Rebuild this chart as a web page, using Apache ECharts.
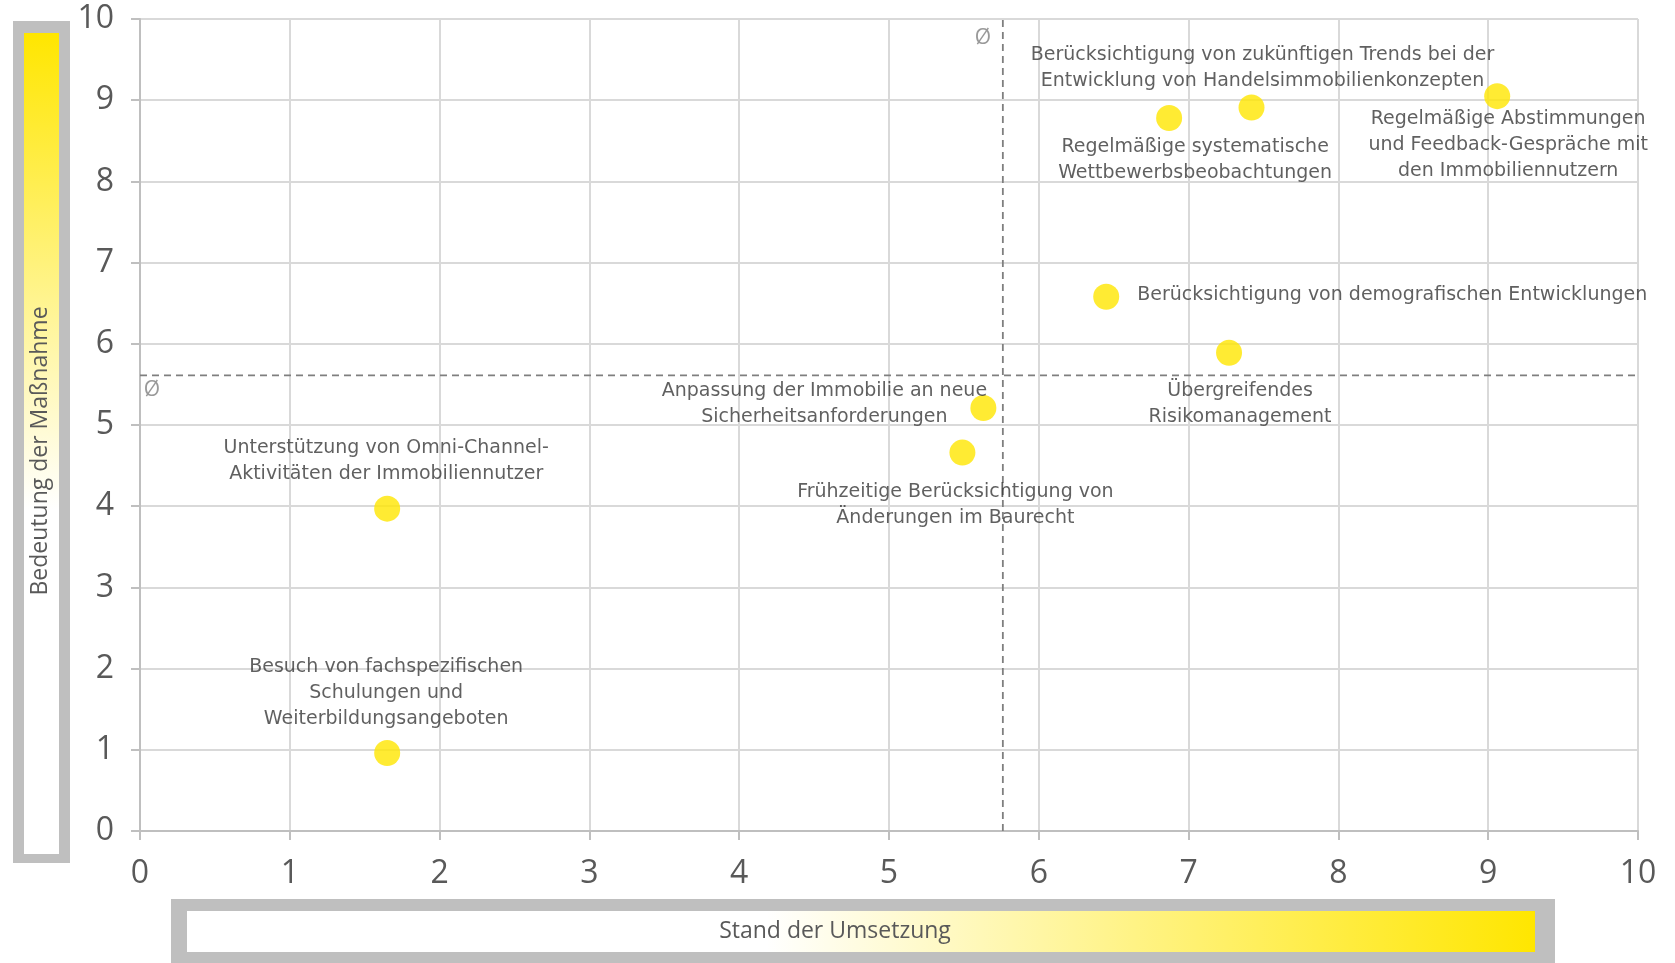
<!DOCTYPE html>
<html>
<head>
<meta charset="utf-8">
<title>Maßnahmen – Bedeutung und Stand der Umsetzung</title>
<script src="https://cdn.jsdelivr.net/npm/echarts@6/dist/echarts.min.js"></script>
<style>
  html, body { margin: 0; padding: 0; background: #ffffff; }
  #chart { width: 1675px; height: 963px; }
</style>
</head>
<body>
<div id="chart"></div>
<script>
// Measures (multi-line labels)
const measures = [
  'Besuch von fachspezifischen\nSchulungen und\nWeiterbildungsangeboten',
  'Unterstützung von Omni-Channel-\nAktivitäten der Immobiliennutzer',
  'Frühzeitige Berücksichtigung von\nÄnderungen im Baurecht',
  'Anpassung der Immobilie an neue\nSicherheitsanforderungen',
  'Berücksichtigung von demografischen Entwicklungen',
  'Übergreifendes\nRisikomanagement',
  'Regelmäßige systematische\nWettbewerbsbeobachtungen',
  'Berücksichtigung von zukünftigen Trends bei der\nEntwicklung von Handelsimmobilienkonzepten',
  'Regelmäßige Abstimmungen\nund Feedback-Gespräche mit\nden Immobiliennutzern'
];
// Stand der Umsetzung (x)
const implementation = [1.65, 1.65, 5.49, 5.63, 6.45, 7.27, 6.87, 7.42, 9.06];
// Bedeutung der Maßnahme (y)
const importance = [0.96, 3.97, 4.66, 5.21, 6.58, 5.89, 8.78, 8.91, 9.05];
// Average lines
const avgImplementation = 5.76;
const avgImportance = 5.61;
// Axis ticks
const axisMin = 0;
const axisMax = 10;
const axisStep = 1;
const avgSymbol = 'Ø';
const xTitle = 'Stand der Umsetzung';
const yTitle = 'Bedeutung der Maßnahme';

// Label placement around each dot (pixel offsets from dot centre)
const labelPlacement = [
  { offset: [-1, -60], align: 'center' },
  { offset: [-1, -48], align: 'center' },
  { offset: [-7, 52], align: 'center' },
  { offset: [-159, -4], align: 'center' },
  { offset: [31, -2], align: 'left' },
  { offset: [11, 51], align: 'center' },
  { offset: [26, 42], align: 'center' },
  { offset: [11, -39], align: 'center' },
  { offset: [11, 49], align: 'center' }
];

const FONT = '"Open Sans", "Noto Sans", sans-serif';
const LABEL_FONT = '"DejaVu Sans", "Open Sans", sans-serif';
const YELLOW = '#FFE600';

const chart = echarts.init(document.getElementById('chart'), null, { renderer: 'canvas' });

const points = measures.map((name, i) => ({
  name: name,
  value: [implementation[i], importance[i]],
  label: {
    show: true,
    formatter: name,
    position: 'inside',
    align: labelPlacement[i].align,
    verticalAlign: 'middle',
    offset: labelPlacement[i].offset
  }
}));

const axisCommon = {
  type: 'value',
  min: axisMin,
  max: axisMax,
  interval: axisStep,
  axisLine: { show: true, lineStyle: { color: '#BFBFBF', width: 2 } },
  axisTick: { show: true, length: 9, lineStyle: { color: '#BFBFBF', width: 2 } },
  splitLine: { show: true, lineStyle: { color: '#D9D9D9', width: 2 } },
  axisLabel: { color: '#595959', fontSize: 32, fontFamily: FONT }
};

chart.setOption({
  animation: false,
  backgroundColor: '#ffffff',
  grid: { left: 140, right: 37, top: 19, bottom: 132, containLabel: false },
  xAxis: Object.assign({}, axisCommon, {
    axisLabel: Object.assign({}, axisCommon.axisLabel, { margin: 27 })
  }),
  yAxis: Object.assign({}, axisCommon, {
    axisLabel: Object.assign({}, axisCommon.axisLabel, { margin: 26 })
  }),
  graphic: [
    // vertical colour scale (importance)
    { type: 'rect', left: 13, top: 21, shape: { width: 57, height: 842 }, style: { fill: '#BFBFBF' }, silent: true },
    {
      type: 'rect', left: 24, top: 33, shape: { width: 35, height: 821 }, silent: true,
      style: {
        fill: new echarts.graphic.LinearGradient(0, 0, 0, 1, [
          { offset: 0, color: YELLOW },
          { offset: 0.58, color: '#FFFFFF' },
          { offset: 1, color: '#FFFFFF' }
        ])
      }
    },
    {
      type: 'text', x: 40, y: 451, rotation: Math.PI / 2, silent: true,
      style: { text: yTitle, fill: '#595959', font: '23px ' + FONT, textAlign: 'center', textVerticalAlign: 'middle' }
    },
    // horizontal colour scale (implementation)
    { type: 'rect', left: 171, top: 899, shape: { width: 1384, height: 64 }, style: { fill: '#BFBFBF' }, silent: true },
    {
      type: 'rect', left: 187, top: 911, shape: { width: 1348, height: 41 }, silent: true,
      style: {
        fill: new echarts.graphic.LinearGradient(0, 0, 1, 0, [
          { offset: 0, color: '#FFFFFF' },
          { offset: 0.43, color: '#FFFFFF' },
          { offset: 1, color: YELLOW }
        ])
      }
    },
    {
      type: 'text', x: 835, y: 931, silent: true,
      style: { text: xTitle, fill: '#595959', font: '23px ' + FONT, textAlign: 'center', textVerticalAlign: 'middle' }
    }
  ],
  series: [
    {
      name: 'avgX',
      type: 'line',
      data: [[avgImplementation, axisMin], [avgImplementation, axisMax]],
      symbol: 'none',
      silent: true,
      lineStyle: { color: '#7F7F7F', width: 1.8, type: [7, 5] },
      z: 3
    },
    {
      name: 'avgY',
      type: 'line',
      data: [[axisMin, avgImportance], [axisMax, avgImportance]],
      symbol: 'none',
      silent: true,
      lineStyle: { color: '#7F7F7F', width: 1.8, type: [7, 5] },
      z: 3
    },
    {
      name: 'avgMarks',
      type: 'scatter',
      symbolSize: 0,
      silent: true,
      data: [
        { value: [avgImplementation, axisMax], label: { offset: [-20, 19] } },
        { value: [axisMin, avgImportance], label: { offset: [12, 15] } }
      ],
      label: {
        show: true, formatter: avgSymbol, position: 'inside',
        color: '#7F7F7F', fontSize: 21, fontFamily: FONT
      },
      z: 4
    },
    {
      name: 'measures',
      type: 'scatter',
      symbol: 'circle',
      symbolSize: 26,
      itemStyle: { color: YELLOW },
      label: { color: '#383838', fontSize: 19, lineHeight: 26, fontFamily: LABEL_FONT },
      data: points,
      z: 5
    }
  ]
});
</script>
</body>
</html>
